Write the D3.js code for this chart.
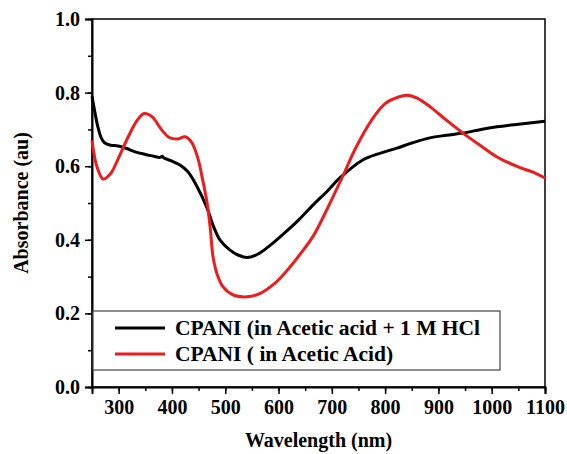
<!DOCTYPE html>
<html>
<head>
<meta charset="utf-8">
<script src="https://cdn.jsdelivr.net/npm/d3@7"></script>
<style>
  body { margin: 0; background: #fff; }
  text { font-family: "Liberation Serif", "Times New Roman", serif; font-weight: bold; }
</style>
</head>
<body>
<svg id="chart"></svg>
<script>
// Wavelength (nm) and absorbance values
const hclWave = [250, 255, 261, 268, 274, 285, 299, 315, 331, 350, 363, 378, 382, 385, 400, 415, 430, 447, 466, 477, 490, 509, 525, 541, 560, 580, 603, 635, 665, 690, 715, 758, 790, 822, 850, 884, 915, 946, 980, 1010, 1050, 1100];
const hclAbs = [0.79, 0.75, 0.707, 0.675, 0.663, 0.657, 0.655, 0.648, 0.639, 0.632, 0.628, 0.624, 0.627, 0.622, 0.614, 0.603, 0.585, 0.545, 0.486, 0.44, 0.40, 0.372, 0.358, 0.352, 0.36, 0.38, 0.408, 0.45, 0.495, 0.53, 0.568, 0.617, 0.635, 0.649, 0.663, 0.677, 0.684, 0.69, 0.70, 0.707, 0.714, 0.722];

const aceWave = [250, 259, 271, 285, 299, 318, 335, 348, 363, 380, 395, 410, 425, 437, 449, 458, 466, 472, 477, 484, 496, 515, 541, 565, 590, 615, 640, 665, 690, 719, 745, 775, 800, 825, 841, 860, 884, 915, 946, 980, 1010, 1050, 1075, 1100];
const aceAbs = [0.67, 0.60, 0.565, 0.58, 0.62, 0.68, 0.725, 0.743, 0.734, 0.70, 0.678, 0.674, 0.68, 0.665, 0.62, 0.56, 0.50, 0.43, 0.355, 0.31, 0.272, 0.25, 0.245, 0.254, 0.278, 0.315, 0.36, 0.41, 0.48, 0.568, 0.65, 0.726, 0.77, 0.788, 0.793, 0.785, 0.762, 0.725, 0.69, 0.655, 0.625, 0.598, 0.585, 0.568];

const seriesNames = ["CPANI (in Acetic acid + 1 M HCl", "CPANI ( in Acetic Acid)"];
const seriesColors = ["#000000", "#ee1c1c"];

const xTicks = [300, 400, 500, 600, 700, 800, 900, 1000, 1100];
const yTicks = [0.0, 0.2, 0.4, 0.6, 0.8, 1.0];

const W = 567, H = 454;
const margin = { top: 19, right: 22, bottom: 67, left: 92 };
const width = W - margin.left - margin.right;
const height = H - margin.top - margin.bottom;

const svg = d3.select("#chart").attr("width", W).attr("height", H);
const g = svg.append("g").attr("transform", `translate(${margin.left},${margin.top})`);

const x = d3.scaleLinear().domain([250, 1100]).range([0, width]);
const y = d3.scaleLinear().domain([0, 1.0]).range([height, 0]);

// frame
g.append("rect")
  .attr("width", width).attr("height", height)
  .attr("fill", "none").attr("stroke", "#000").attr("stroke-width", 1.5);

// minor ticks
g.append("g")
  .attr("transform", `translate(0,${height})`)
  .call(d3.axisBottom(x).tickValues(d3.range(250, 1101, 50)).tickSize(4).tickFormat(""))
  .call(a => a.select(".domain").remove())
  .call(a => a.selectAll("line").attr("stroke-width", 1.5));
g.append("g")
  .call(d3.axisLeft(y).tickValues(d3.range(0, 1.01, 0.1)).tickSize(4).tickFormat(""))
  .call(a => a.select(".domain").remove())
  .call(a => a.selectAll("line").attr("stroke-width", 1.5));

// major ticks
const xAxis = g.append("g")
  .attr("transform", `translate(0,${height})`)
  .call(d3.axisBottom(x).tickValues(xTicks).tickSize(7).tickPadding(6).tickFormat(d3.format("d")));
xAxis.select(".domain").attr("stroke-width", 2);
xAxis.selectAll("line").attr("stroke-width", 1.5);
xAxis.selectAll("text").style("font-size", "20px").attr("fill", "#000");

const yAxis = g.append("g")
  .call(d3.axisLeft(y).tickValues(yTicks).tickSize(7).tickPadding(5).tickFormat(d3.format(".1f")));
yAxis.select(".domain").attr("stroke-width", 2);
yAxis.selectAll("line").attr("stroke-width", 1.5);
yAxis.selectAll("text").style("font-size", "20px").attr("fill", "#000");

// curves
const line = d3.line()
  .x(d => x(d[0]))
  .y(d => y(d[1]))
  .curve(d3.curveCatmullRom.alpha(0.5));

const series = [
  d3.zip(hclWave, hclAbs),
  d3.zip(aceWave, aceAbs)
];

g.append("g").selectAll("path")
  .data(series)
  .join("path")
  .attr("d", line)
  .attr("fill", "none")
  .attr("stroke", (d, i) => seriesColors[i])
  .attr("stroke-width", 3)
  .attr("stroke-linejoin", "round");

// legend
const legend = g.append("g").attr("transform", `translate(1,${311 - margin.top})`);
legend.append("rect")
  .attr("width", 500 - margin.left - 1).attr("height", 59)
  .attr("fill", "#fff").attr("stroke", "#444").attr("stroke-width", 1.2);

seriesNames.forEach((name, i) => {
  const ly = 17 + i * 26;
  legend.append("line")
    .attr("x1", 115 - margin.left - 1).attr("x2", 165 - margin.left - 1)
    .attr("y1", ly).attr("y2", ly)
    .attr("stroke", seriesColors[i]).attr("stroke-width", 3);
  legend.append("text")
    .attr("x", 175 - margin.left - 1).attr("y", ly + 7)
    .style("font-size", "21.5px")
    .text(name);
});

// axis titles
svg.append("text")
  .attr("x", margin.left + width / 2)
  .attr("y", 447)
  .attr("text-anchor", "middle")
  .style("font-size", "20px")
  .text("Wavelength (nm)");

svg.append("text")
  .attr("transform", `translate(28,${margin.top + height / 2}) rotate(-90)`)
  .attr("text-anchor", "middle")
  .style("font-size", "20px")
  .text("Absorbance (au)");
</script>
</body>
</html>
